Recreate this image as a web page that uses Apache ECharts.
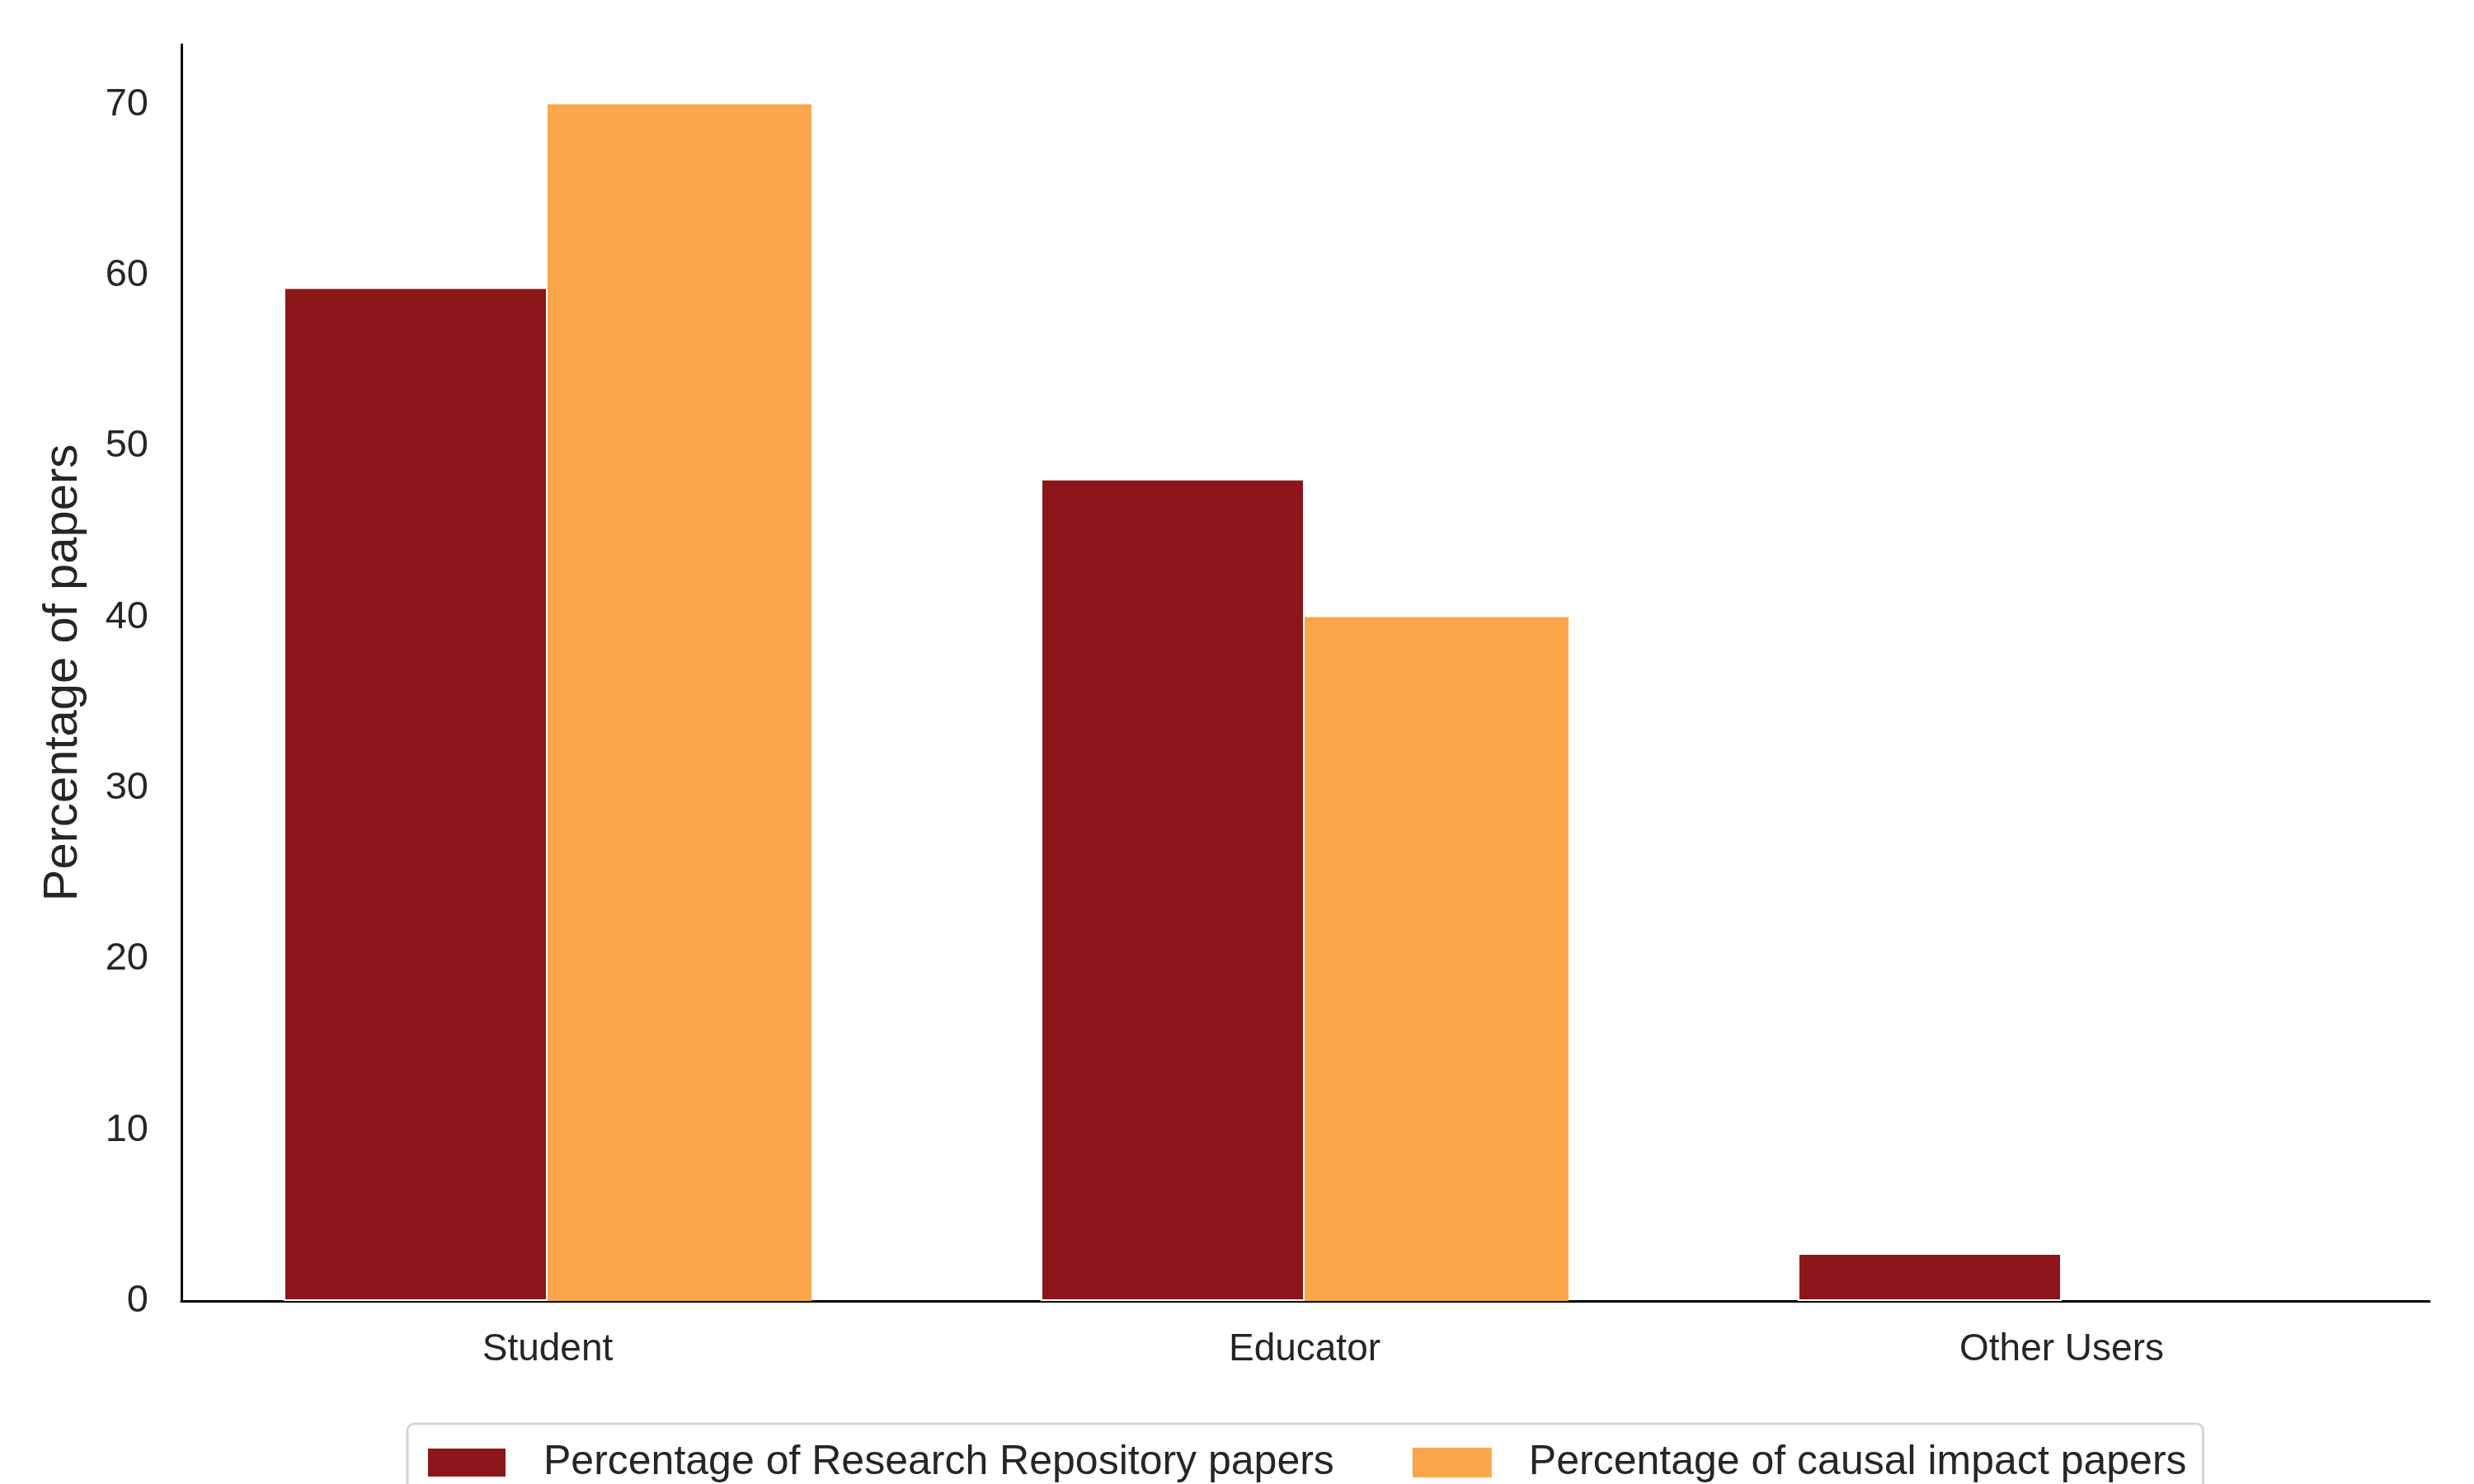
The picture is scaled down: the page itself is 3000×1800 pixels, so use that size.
<!DOCTYPE html>
<html>
<head>
<meta charset="utf-8">
<script src="https://cdn.jsdelivr.net/npm/echarts@6/dist/echarts.min.js"></script>
<style>html,body{margin:0;padding:0;background:#fff}#c{width:3000px;height:1800px}</style>
</head>
<body>
<div id="c"></div>
<script>
const categories = ['Student', 'Educator', 'Other Users'];
const repositoryValues = [59.3, 48.1, 2.8];
const causalValues = [70.0, 40.0, 0];
const seriesNames = ['Percentage of Research Repository papers', 'Percentage of causal impact papers'];
const yTicks = [0, 10, 20, 30, 40, 50, 60, 70];

const FONT = "'Liberation Sans', Arial, sans-serif";
const TXT = '#262626';
const Y_MAX = 73.5;
const chart = echarts.init(document.getElementById('c'), null, {renderer: 'canvas'});
chart.setOption({
  backgroundColor: '#ffffff',
  animation: false,
  grid: [
    {left: 205, right: 41, top: 54, bottom: 222, containLabel: false},
    {left: 220, right: 54, top: 54, bottom: 222, containLabel: false}
  ],
  legend: {
    data: seriesNames,
    left: 494, top: 1727,
    orient: 'horizontal',
    itemWidth: 96, itemHeight: 36, itemGap: 95,
    padding: [17, 20, 17, 23],
    borderColor: '#d6d6d6', borderWidth: 3, borderRadius: 8,
    backgroundColor: '#ffffff',
    icon: 'rect',
    textStyle: {fontFamily: FONT, fontSize: 50, lineHeight: 60, color: TXT, padding: [0, 0, 0, 40]}
  },
  xAxis: [
    {
      type: 'category', gridIndex: 0,
      data: categories,
      axisLine: {show: false},
      axisTick: {show: false},
      axisLabel: {fontFamily: FONT, fontSize: 46, color: TXT, margin: 36},
      splitLine: {show: false}
    },
    {
      type: 'value', gridIndex: 1, min: 0, max: 1,
      axisLine: {show: true, onZero: false, lineStyle: {color: '#000', width: 3}},
      axisTick: {show: false}, axisLabel: {show: false}, splitLine: {show: false}
    }
  ],
  yAxis: [
    {
      type: 'value', gridIndex: 0, min: 0, max: Y_MAX,
      show: false
    },
    {
      type: 'value', gridIndex: 1,
      min: 0, max: Y_MAX, interval: 10,
      name: 'Percentage of papers',
      nameLocation: 'middle',
      nameGap: 114,
      nameTextStyle: {fontFamily: FONT, fontSize: 58, color: TXT},
      axisLine: {show: true, onZero: false, lineStyle: {color: '#000', width: 3}},
      axisTick: {show: false},
      splitLine: {show: false},
      axisLabel: {
        fontFamily: FONT, fontSize: 47, color: TXT, margin: 40,
        showMaxLabel: false,
        formatter: function (v) { return yTicks.indexOf(v) >= 0 ? String(v) : ''; }
      }
    }
  ],
  series: [
    {
      name: seriesNames[0], type: 'bar', data: repositoryValues,
      xAxisIndex: 0, yAxisIndex: 0,
      barWidth: 320, barGap: '0%',
      itemStyle: {color: '#8c1619', borderColor: '#ffffff', borderWidth: 2}
    },
    {
      name: seriesNames[1], type: 'bar', data: causalValues,
      xAxisIndex: 0, yAxisIndex: 0,
      barWidth: 320, barGap: '0%',
      itemStyle: {color: '#faa64b', borderWidth: 0}
    }
  ]
});
</script>
</body>
</html>
